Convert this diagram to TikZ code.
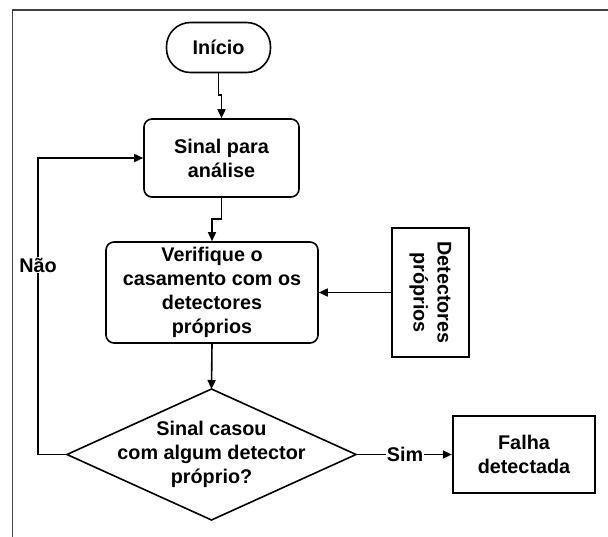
\documentclass[tikz,border=0pt]{standalone}
\usepackage{fontspec}
\setmainfont{Liberation Sans}
\usetikzlibrary{arrows.meta,shapes.geometric}
\tikzset{
  txt/.style={font=\bfseries\fontsize{19.8}{24}\selectfont, align=center},
  rbox/.style={txt, draw, line width=1.6pt, rounded corners=8pt, inner sep=0pt},
  sbox/.style={txt, draw, line width=1.8pt, inner sep=0pt},
  conn/.style={line width=1.6pt},
  arr/.style={conn, -{Triangle[length=9pt,width=8pt]}},
  lbl/.style={txt, fill=white, inner sep=1pt},
  frame/.style={line width=1.3pt, draw=black!75}
}
\begin{document}
\begin{tikzpicture}[x=1pt,y=-1pt]
\useasboundingbox (0,0) rectangle (608,537);
\draw[frame] (12.5,537) -- (12.5,10) -- (608,10);
\node[rbox, rounded corners=24pt, minimum width=104pt, minimum height=50pt] (inicio) at (218.5,47.5) {Início};
\node[rbox, minimum width=155pt, minimum height=78pt] (sinal) at (221.5,158) {Sinal para\\análise};
\node[rbox, minimum width=212pt, minimum height=101pt] (verif) at (212,292.5) {Verifique o\\casamento com os\\detectores\\próprios};
\node[sbox, minimum width=77pt, minimum height=129pt] (det) at (430.5,292.5) {};
\node[txt, rotate=-90] (dettxt) at (det.center) {Detectores\\próprios};
\node[draw, diamond, line width=1.6pt, minimum width=289pt, minimum height=131pt, inner sep=0pt, outer sep=0pt] (dec) at (211.5,454.5) {};
\node[txt] (dectxt) at (dec.center) {Sinal casou\\com algum detector\\próprio?};
\node[sbox, line width=2.2pt, minimum width=142pt, minimum height=77pt] (falha) at (524,454.5) {Falha\\detectada};
\coordinate (j1) at (218.5,95);
\coordinate (j2) at (221.5,219);
\draw[arr] (inicio.south) -- (j1) -| (sinal.north);
\draw[arr] (sinal.south) -- (j2) -| (verif.north);
\draw[arr] (det.west) -- (verif.east);
\draw[arr] (verif.south) -- (dec.north);
\coordinate (nl) at (38,454.5);
\coordinate (nu) at (38,158);
\draw[arr] (dec.west) -- (nl) -- (nu) -- (sinal.west);
\node[lbl] (nao) at (38,265) {Não};
\draw[arr] (dec.east) -- (falha.west);
\node[lbl] (sim) at (405,454.5) {Sim};
\end{tikzpicture}
\end{document}
